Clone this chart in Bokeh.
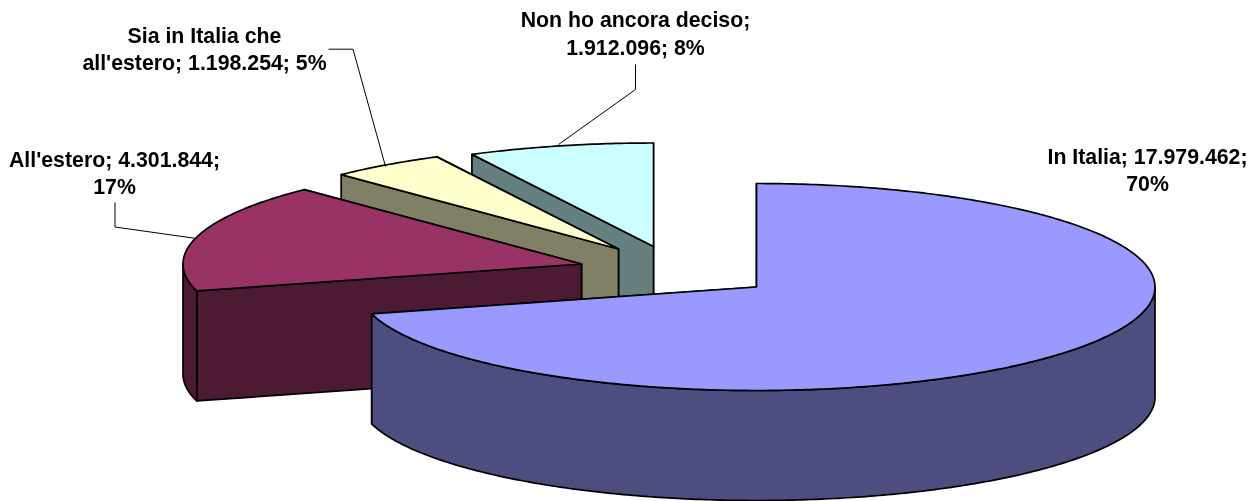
import math
from bokeh.plotting import figure
from bokeh.embed import file_html
from bokeh.resources import INLINE
from bokeh.models import Range1d
from bokeh.core.properties import value

# data
categories = ["In Italia", "All'estero", "Sia in Italia che all'estero", "Non ho ancora deciso"]
values = [17979462, 4301844, 1198254, 1912096]
value_labels = ["17.979.462", "4.301.844", "1.198.254", "1.912.096"]
percent_labels = ["70%", "17%", "5%", "8%"]

# style
top_colors = ["#9999FF", "#993366", "#FFFFCC", "#CCFFFF"]
wall_colors = ["#4D4D80", "#4D1A33", "#808066", "#668080"]

# layout (pixels of the picture)
W, H = 1258, 501
RX, RY, DEPTH = 398.5, 103.5, 110
apexes = [(756, 286.5), (581, 263.5), (618, 248.5), (653, 246)]
leaders = [
    None,
    ([114.5, 114.5, 196], [202, 226.5, 238]),
    ([328, 352.5, 385], [48.7, 48.7, 166]),
    ([635, 635, 558], [64, 89, 144]),
]
label_lines = [
    [(f"{categories[0]}; {value_labels[0]};", 1147, 156), (percent_labels[0], 1147, 183)],
    [(f"{categories[1]}; {value_labels[1]};", 114, 159), (percent_labels[1], 114, 186)],
    [("Sia in Italia che", 204, 35), (f"all'estero; {value_labels[2]}; {percent_labels[2]}", 204, 62)],
    [(f"{categories[3]};", 635, 19), (f"{value_labels[3]}; {percent_labels[3]}", 635, 47)],
]

p = figure(width=W, height=H, output_backend="svg", toolbar_location=None,
           x_range=Range1d(0, W), y_range=Range1d(H, 0), min_border=0,
           background_fill_color="white", border_fill_color="white",
           outline_line_color=None)
p.axis.visible = False
p.grid.visible = False
p.styles = {"position": "fixed", "left": "0px", "top": "0px"}


def pt(apex, deg, dy=0):
    r = math.radians(deg)
    return apex[0] + RX * math.sin(r), apex[1] - RY * math.cos(r) + dy


def arc(apex, a0, a1, dy=0):
    n = max(2, int(abs(a1 - a0) * 1.5) + 1)
    pts = [pt(apex, a0 + (a1 - a0) * i / (n - 1), dy) for i in range(n)]
    return [q[0] for q in pts], [q[1] for q in pts]


def poly(xs, ys, color):
    p.patch(xs, ys, fill_color=color, line_color="black", line_width=1.7, line_join="round")


total = sum(values)
spans = []
start = 0.0
for v in values:
    end = start + 360.0 * v / total
    spans.append((start, end))
    start = end

# back to front
for i in [3, 2, 1, 0]:
    apex = apexes[i]
    a0, a1 = spans[i]
    for a in (a1, a0):  # cut walls
        q = pt(apex, a)
        poly([apex[0], q[0], q[0], apex[0]],
             [apex[1], q[1], q[1] + DEPTH, apex[1] + DEPTH], wall_colors[i])
    lo, hi = max(a0, 90), min(a1, 270)
    if hi > lo:  # outer wall
        x1, y1 = arc(apex, lo, hi)
        x2, y2 = arc(apex, hi, lo, DEPTH)
        poly(x1 + x2, y1 + y2, wall_colors[i])
    ax, ay = arc(apex, a0, a1)
    poly([apex[0]] + ax, [apex[1]] + ay, top_colors[i])

for lead in leaders:
    if lead:
        p.line(lead[0], lead[1], line_color="black", line_width=1)

for lines in label_lines:
    p.text([l[1] for l in lines], [l[2] for l in lines], text=[l[0] for l in lines],
           text_font=value("Liberation Sans"), text_font_style="bold",
           text_font_size="21.3px", text_color="black",
           text_align="center", text_baseline="alphabetic")

open("out.html", "w").write(file_html(p, INLINE))
